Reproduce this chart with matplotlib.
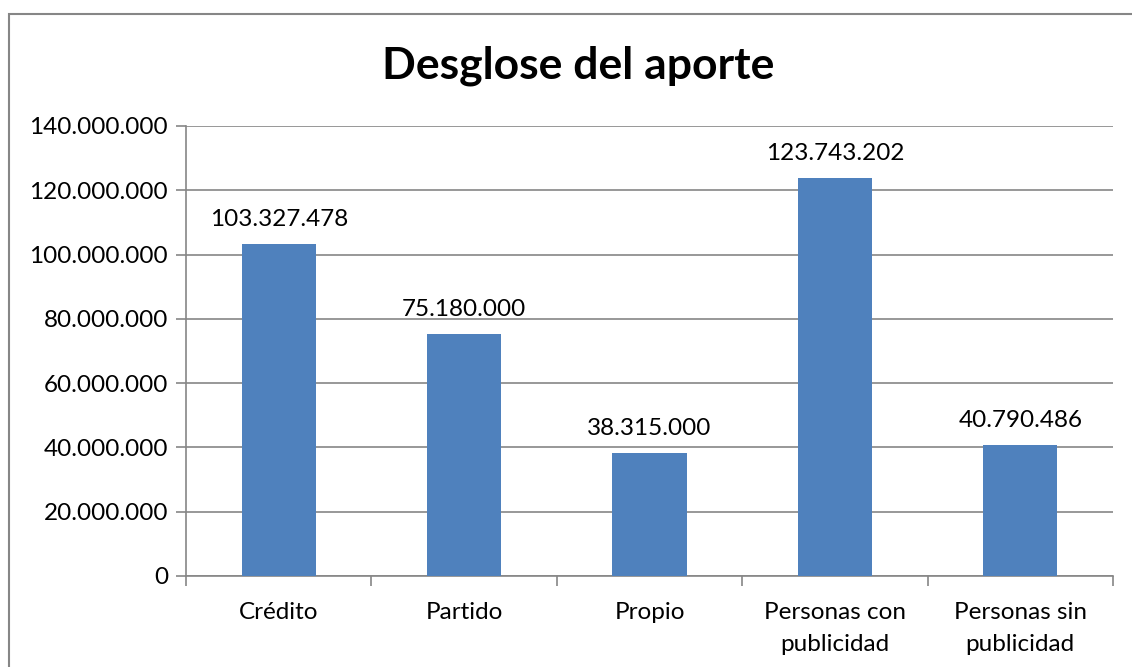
import matplotlib.pyplot as plt
import matplotlib.patches as mpatches
import matplotlib.ticker as mticker

# data
categorias = ["Crédito", "Partido", "Propio", "Personas con\npublicidad", "Personas sin\npublicidad"]
aportes = [103327478, 75180000, 38315000, 123743202, 40790486]
y_ticks = [0, 20000000, 40000000, 60000000, 80000000, 100000000, 120000000, 140000000]

plt.rcParams['font.family'] = ['Lato', 'DejaVu Sans']

def miles(v, pos=None):
    # formato con punto como separador de miles
    return f"{int(v):,}".replace(",", ".")

gris = "#868686"
azul = "#4F81BD"

fig = plt.figure(figsize=(11.32, 6.67), dpi=100)
ax = fig.add_axes([186/1132, 1 - 576/667, (1113 - 186)/1132, (576 - 126)/667])

# marco del grafico
fig.patches.append(mpatches.Rectangle((8.5/1132, -0.05), 1.2, 1 - 14/667 + 0.05,
                                      transform=fig.transFigure, fill=False,
                                      edgecolor=gris, linewidth=1.5))

x = list(range(len(categorias)))
bars = ax.bar(x, aportes, width=0.4, color=azul, zorder=3)

for b, v in zip(bars, aportes):
    ax.annotate(miles(v), (b.get_x() + b.get_width()/2, v), xytext=(0, 10),
                textcoords="offset points", ha="center", va="bottom", fontsize=17.5)

ax.set_xlim(-0.5, len(categorias) - 0.5)
ax.set_ylim(0, 140000000)
ax.set_yticks(y_ticks)
ax.yaxis.set_major_formatter(mticker.FuncFormatter(miles))
ax.grid(axis="y", color=gris, linewidth=1.2, zorder=0)

ax.set_xticks(x)
ax.set_xticklabels(categorias, fontsize=17.5, linespacing=1.6)
ax.set_xticks([i - 0.5 for i in range(len(categorias) + 1)], minor=True)
ax.tick_params(axis="x", which="major", length=0, pad=19)
ax.tick_params(axis="x", which="minor", length=7, color=gris, width=1.2)
ax.tick_params(axis="y", length=7, color=gris, width=1.2, labelsize=17.5, pad=6)

for s in ["top", "right"]:
    ax.spines[s].set_visible(False)
for s in ["left", "bottom"]:
    ax.spines[s].set_color(gris)
    ax.spines[s].set_linewidth(1.2)

fig.text(578/1132, 1 - 66/667, "Desglose del aporte", ha="center", va="center",
         fontsize=32, fontweight="bold")

fig.savefig("out.png", dpi=100)
